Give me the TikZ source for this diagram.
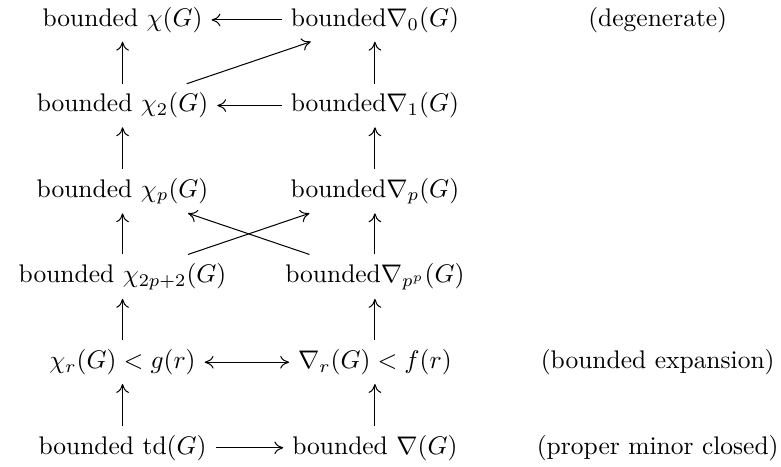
\documentclass[tikz,border=0pt]{standalone}
\usepackage{amsmath}
\usepackage{amssymb}
\usetikzlibrary{arrows,arrows.meta,positioning,calc}

\begin{document}
\begin{tikzpicture}[>={To[length=3.5pt,width=5pt]}]
    \useasboundingbox (-1.69,0.275) rectangle (9.08,-6.155);

    % degenerate row
    \node (chi0) at (0,0) {bounded $\chi(G)$};
    \node (nab0) at (3.48,0) {bounded$\nabla_0(G)$};
    \node (deg) at (7.38,0) {(degenerate)};

    % second row
    \node (chi1) at (0,-1.18) {bounded $\chi_2(G)$};
    \node (nab1) at (3.48,-1.18) {bounded$\nabla_1(G)$};

    % p rows
    \node (chip) at (0,-2.36) {bounded $\chi_p(G)$};
    \node (nabp) at (3.48,-2.36) {bounded$\nabla_p(G)$};
    \node (chiq) at (0,-3.54) {bounded $\chi_{2p+2}(G)$};
    \node (nabq) at (3.48,-3.54) {bounded$\nabla_{p^p}(G)$};

    % bounded expansion row
    \node (chir) at (0,-4.72) {$\chi_r(G) < g(r)$};
    \node (nabr) at (3.48,-4.72) {$\nabla_r(G) < f(r)$};
    \node (bexp) at (7.38,-4.72) {(bounded expansion)};

    % proper minor closed row
    \node (td) at (0,-5.90) {bounded td$(G)$};
    \node (nabm) at (3.48,-5.90) {bounded $\nabla(G)$};
    \node (pmc) at (7.38,-5.90) {(proper minor closed)};

    % horizontal arrows
    \draw[->] (nab0) -- (chi0);
    \draw[->] (nab1) -- (chi1);
    \draw[<->] (chir) -- (nabr);
    \draw[->] (td) -- (nabm);

    % left column
    \draw[->] (chi1) -- (chi0);
    \draw[->] (chip) -- (chi1);
    \draw[->] (chiq) -- (chip);
    \draw[->] (chir) -- (chiq);
    \draw[->] (td) -- (chir);

    % right column
    \draw[->] (nab1) -- (nab0);
    \draw[->] (nabp) -- (nab1);
    \draw[->] (nabq) -- (nabp);
    \draw[->] (nabr) -- (nabq);
    \draw[->] (nabm) -- (nabr);

    % diagonals
    \draw[->] (chi1) -- (nab0);
    \draw[->] (chiq) -- (nabp);
    \draw[->] (nabq) -- (chip);
\end{tikzpicture}
\end{document}
